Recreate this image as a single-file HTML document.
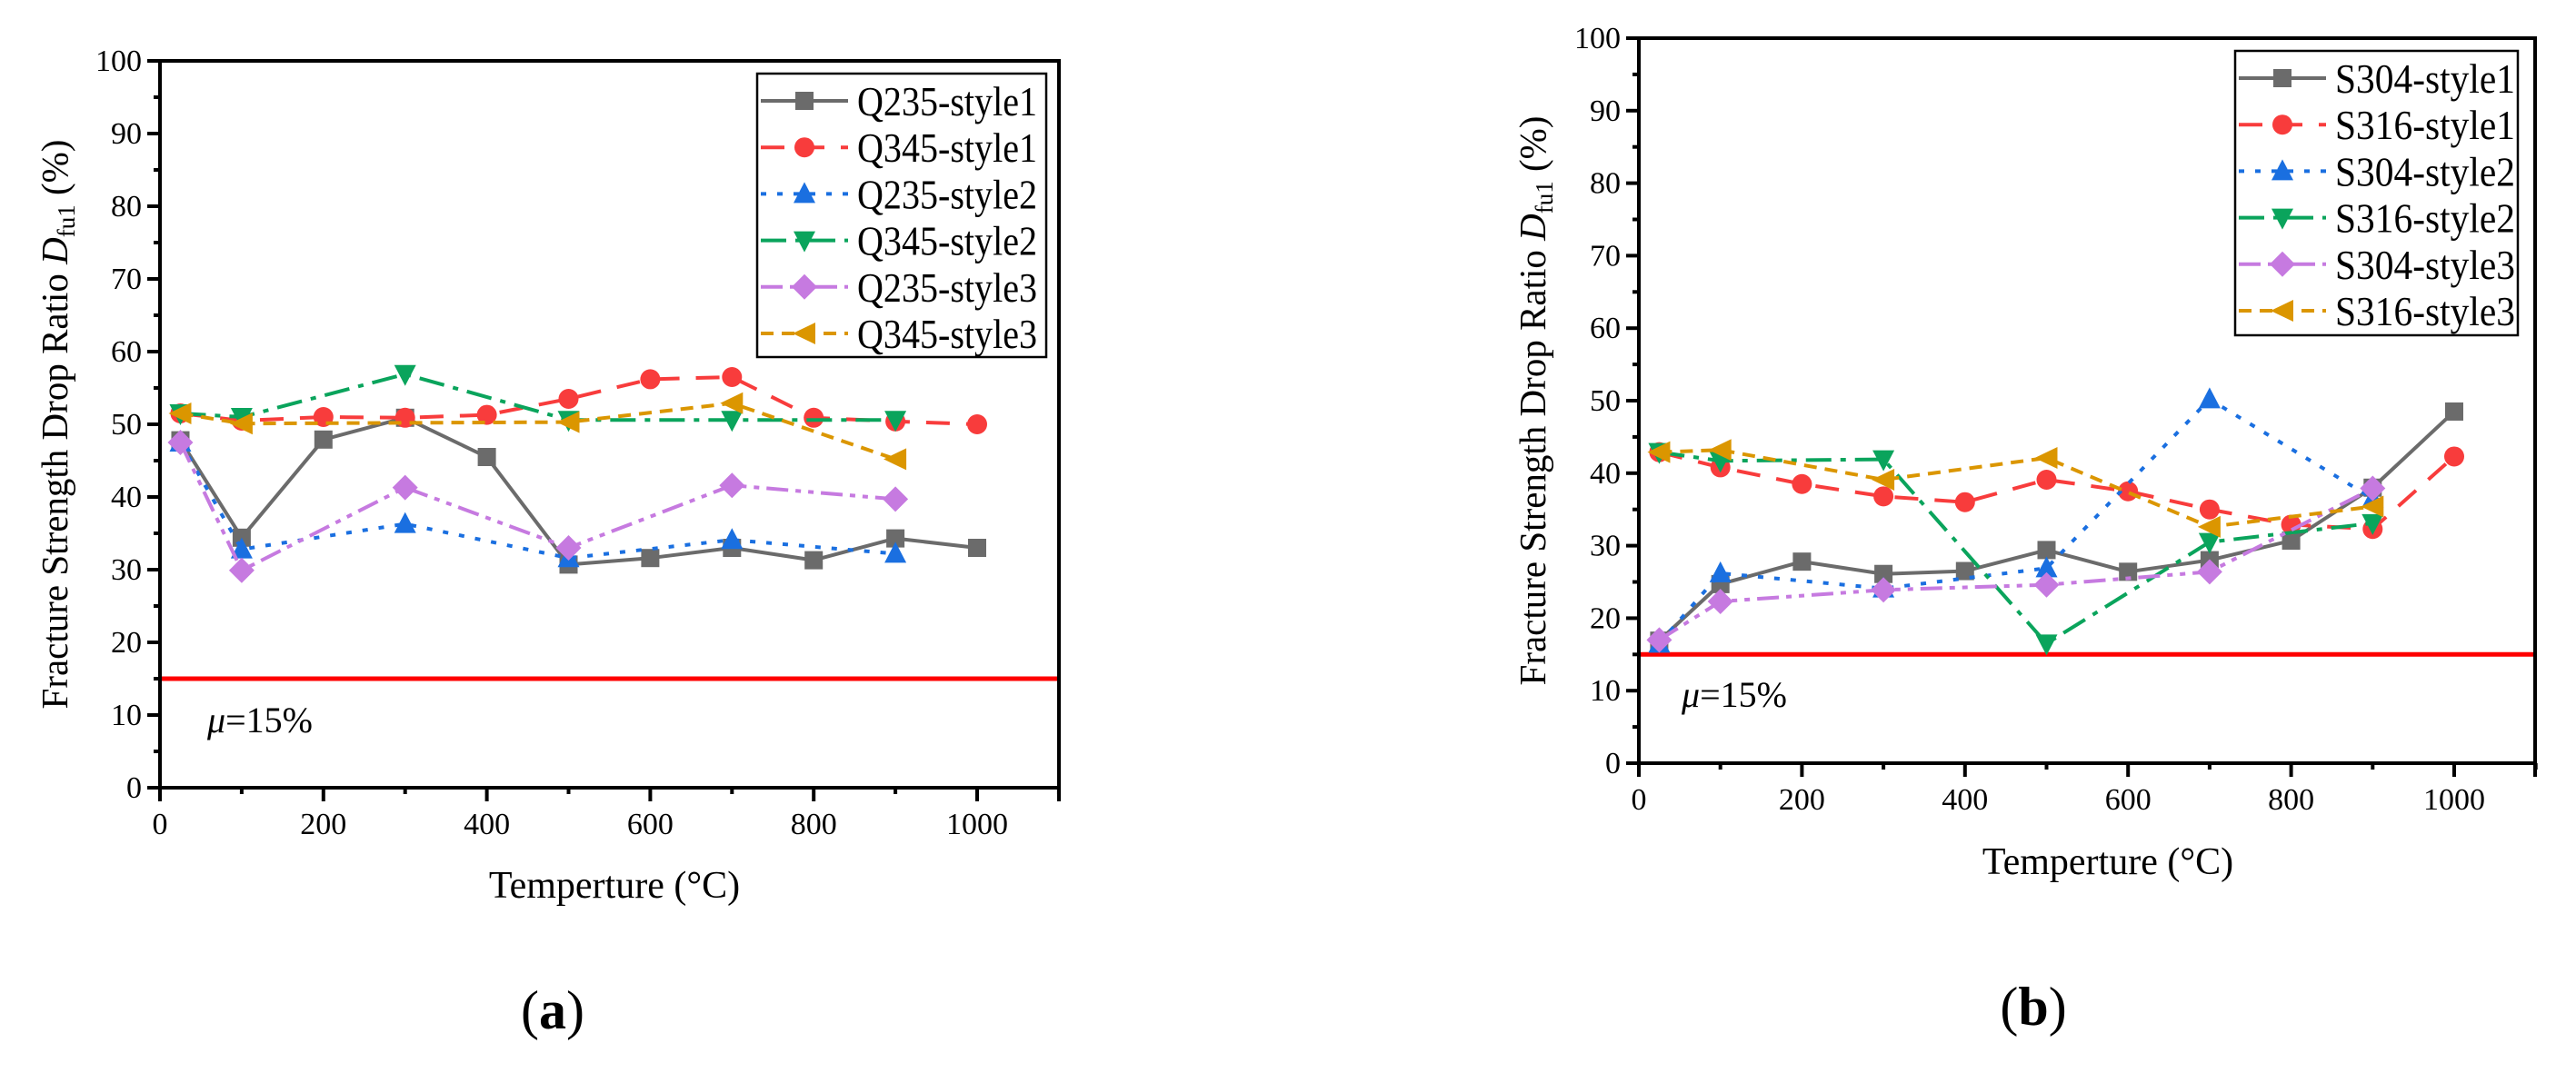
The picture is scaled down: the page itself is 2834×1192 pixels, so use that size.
<!DOCTYPE html>
<html><head><meta charset="utf-8"><style>
html,body{margin:0;padding:0;background:#fff;}
svg{display:block;}
svg text{font-family:"Liberation Serif","Times New Roman",serif;}
</style></head><body>
<svg id="fig" width="2834" height="1192" viewBox="0 0 2834 1192" font-family="Liberation Serif, serif"></svg>
<script>
const tempsA = [25,100,200,300,400,500,600,700,800,900,1000];
const temps2 = [25,100,300,500,700,900];
const temps3 = [25,100,500,700,900];
const aQ235s1 = [47.8,34.4,47.9,50.9,45.5,30.7,31.6,33.0,31.3,34.3,33.0];
const aQ345s1 = [51.5,50.5,51.0,50.9,51.3,53.5,56.2,56.5,50.9,50.4,50.0];
const aQ235s2 = [47.5,32.8,36.3,31.6,34.1,32.2];
const aQ345s2 = [51.5,51.0,56.9,50.6,50.6,50.6];
const aQ235s3 = [47.5,29.9,41.3,33.0,41.6,39.7];
const aQ345s3 = [51.5,50.1,50.3,52.9,45.2];
const bS304s1 = [16.9,24.7,27.8,26.1,26.5,29.4,26.4,28.0,30.7,38.0,48.5];
const bS316s1 = [42.9,40.8,38.5,36.8,36.0,39.1,37.5,35.0,32.9,32.3,42.3];
const bS304s2 = [16.5,26.2,24.1,26.9,50.2,36.5];
const bS316s2 = [42.9,41.7,41.9,16.5,30.5,33.1];
const bS304s3 = [17.0,22.3,23.9,24.6,26.4,37.9];
const bS316s3 = [42.9,43.2,39.1,42.1,32.6,35.4];
const xTicks = [0,200,400,600,800,1000];
const yTicks = [0,10,20,30,40,50,60,70,80,90,100];
const threshold = 15;

const NS='http://www.w3.org/2000/svg';
const svg=document.getElementById('fig');
const FF='Liberation Serif, Times New Roman, serif';
function mk(tag,attrs,parent){const e=document.createElementNS(NS,tag);for(const k in attrs)e.setAttribute(k,attrs[k]);if(tag==='text')e.setAttribute('font-family',FF);(parent||svg).appendChild(e);return e;}

const styles=[
 {c:'#6b6b6b',d:'',m:'square'},
 {c:'#f83c3c',d:'26,18',m:'circle'},
 {c:'#1a6fe0',d:'6,12',m:'tri'},
 {c:'#0aa45c',d:'28,10,6,10',m:'tridown'},
 {c:'#c67ae0',d:'24,8,6,8,6,8',m:'diamond'},
 {c:'#db9600',d:'14,9',m:'left'}
];
function marker(g,type,x,y,c){
 const s=11;
 if(type==='square')return mk('rect',{x:x-s+1,y:y-s+1,width:2*s-2,height:2*s-2,fill:c},g);
 if(type==='circle')return mk('circle',{cx:x,cy:y,r:s,fill:c},g);
 if(type==='tri')return mk('polygon',{points:`${x},${y-s-2} ${x+s+1},${y+s-1} ${x-s-1},${y+s-1}`,fill:c},g);
 if(type==='tridown')return mk('polygon',{points:`${x},${y+s+2} ${x+s+1},${y-s+1} ${x-s-1},${y-s+1}`,fill:c},g);
 if(type==='diamond')return mk('polygon',{points:`${x},${y-s-3} ${x+s+3},${y} ${x},${y+s+3} ${x-s-3},${y}`,fill:c},g);
 if(type==='left')return mk('polygon',{points:`${x-s-2},${y} ${x+s+1},${y-s-1} ${x+s+1},${y+s+1}`,fill:c},g);
}

function chart(cfg){
 const {x0,x1000,xr,y0,y100,name}=cfg;
 const X=v=>x0+(x1000-x0)*v/1000;
 const Y=v=>y0+(y100-y0)*v/100;
 const g=mk('g',{},svg);
 
 
 const th=mk('line',{x1:x0,x2:xr,y1:Y(threshold),y2:Y(threshold),stroke:'#ff0000','stroke-width':5},g);
 
 
 const mu=mk('text',{x:cfg.muX,y:cfg.muY,'font-size':40},g);
 mu.innerHTML='<tspan font-style="italic">μ</tspan>=15%';
 
 
 cfg.series.forEach((s,i)=>{
  const st=styles[i];
  const sg=mk('g',{},g);
  
  
  const pts=s.x.map((t,j)=>X(t)+','+Y(s.y[j])).join(' ');
  const pl=mk('polyline',{points:pts,fill:'none',stroke:st.c,'stroke-width':4,'stroke-dasharray':st.d,'stroke-linejoin':'round'},sg);
  
  
  s.x.forEach((t,j)=>{const m=marker(sg,st.m,X(t),Y(s.y[j]),st.c);
   
   });
 });
 const fr=mk('rect',{x:x0,y:y100,width:xr-x0,height:y0-y100,fill:'none',stroke:'#000','stroke-width':4},g);
 
 
 for(let v=0;v<=100;v+=5){
  const major=v%10===0;
  mk('line',{x1:x0,x2:x0-(major?14:7),y1:Y(v),y2:Y(v),stroke:'#000','stroke-width':4},g);
 }
 yTicks.forEach(v=>{const t=mk('text',{x:x0-20,y:Y(v)+11,'font-size':34,'text-anchor':'end'},g);t.textContent=v;
  
  });
 for(let v=100;v<=1100;v+=200){mk('line',{x1:X(v),x2:X(v),y1:y0,y2:y0+7,stroke:'#000','stroke-width':4},g);}
 xTicks.forEach(v=>{mk('line',{x1:X(v),x2:X(v),y1:y0,y2:y0+15,stroke:'#000','stroke-width':4},g);
  const t=mk('text',{x:X(v),y:y0+51,'font-size':34,'text-anchor':'middle'},g);t.textContent=v;
  
  });
 mk('line',{x1:xr,x2:xr,y1:y0,y2:y0+15,stroke:'#000','stroke-width':4},g);
 const yt=mk('text',{x:0,y:0,'font-size':41,'text-anchor':'middle',transform:`translate(${cfg.ytX},${(y0+y100)/2}) rotate(-90)`},g);
 yt.innerHTML='Fracture Strength Drop Ratio <tspan font-style="italic">D</tspan><tspan font-size="27" dy="8">fu1</tspan><tspan dy="-8"> (%)</tspan>';
 
 
 const xt=mk('text',{x:cfg.xtX,y:cfg.xtY,'font-size':42,'text-anchor':'middle'},g);
 xt.textContent='Temperture (°C)';
 
 
 const pl=mk('text',{x:cfg.pX,y:cfg.pY,'font-size':60,'text-anchor':'middle'},g);
 pl.innerHTML='(<tspan font-weight="bold">'+cfg.panel+'</tspan>)';
 
 
 const lg=mk('g',{},g);
 
 
 const L=cfg.leg;
 mk('rect',{x:L.x,y:L.y,width:L.w,height:L.h,fill:'#fff',stroke:'#000','stroke-width':2.5},lg);
 cfg.series.forEach((s,i)=>{
  const st=styles[i];const ry=L.y+30+i*51.2;
  const e=mk('g',{},lg);
  
  
  mk('line',{x1:L.x+4,x2:L.x+100,y1:ry,y2:ry,stroke:st.c,'stroke-width':4,'stroke-dasharray':st.d},e);
  marker(e,st.m,L.x+52,ry,st.c);
  const t=mk('text',{x:L.x+110,y:ry+16,'font-size':46,textLength:198,lengthAdjust:'spacingAndGlyphs'},e);
  t.textContent=s.label;
 });
}

chart({name:'chart-a',panel:'a',x0:176,x1000:1075,xr:1165,y0:867,y100:67,ytX:74,xtX:676,xtY:988,pX:608,pY:1132,muX:228,muY:806,
 leg:{x:833,y:81,w:318,h:312},
 series:[
  {label:'Q235-style1',x:tempsA,y:aQ235s1},
  {label:'Q345-style1',x:tempsA,y:aQ345s1},
  {label:'Q235-style2',x:temps2,y:aQ235s2},
  {label:'Q345-style2',x:temps2,y:aQ345s2},
  {label:'Q235-style3',x:temps2,y:aQ235s3},
  {label:'Q345-style3',x:temps3,y:aQ345s3}]});
chart({name:'chart-b',panel:'b',x0:1803,x1000:2700,xr:2789,y0:840,y100:42,ytX:1700,xtX:2319,xtY:962,pX:2237,pY:1128,muX:1850,muY:778,
 leg:{x:2459,y:56,w:311,h:313},
 series:[
  {label:'S304-style1',x:tempsA,y:bS304s1},
  {label:'S316-style1',x:tempsA,y:bS316s1},
  {label:'S304-style2',x:temps2,y:bS304s2},
  {label:'S316-style2',x:temps2,y:bS316s2},
  {label:'S304-style3',x:temps2,y:bS304s3},
  {label:'S316-style3',x:temps2,y:bS316s3}]});
</script>
</body></html>
